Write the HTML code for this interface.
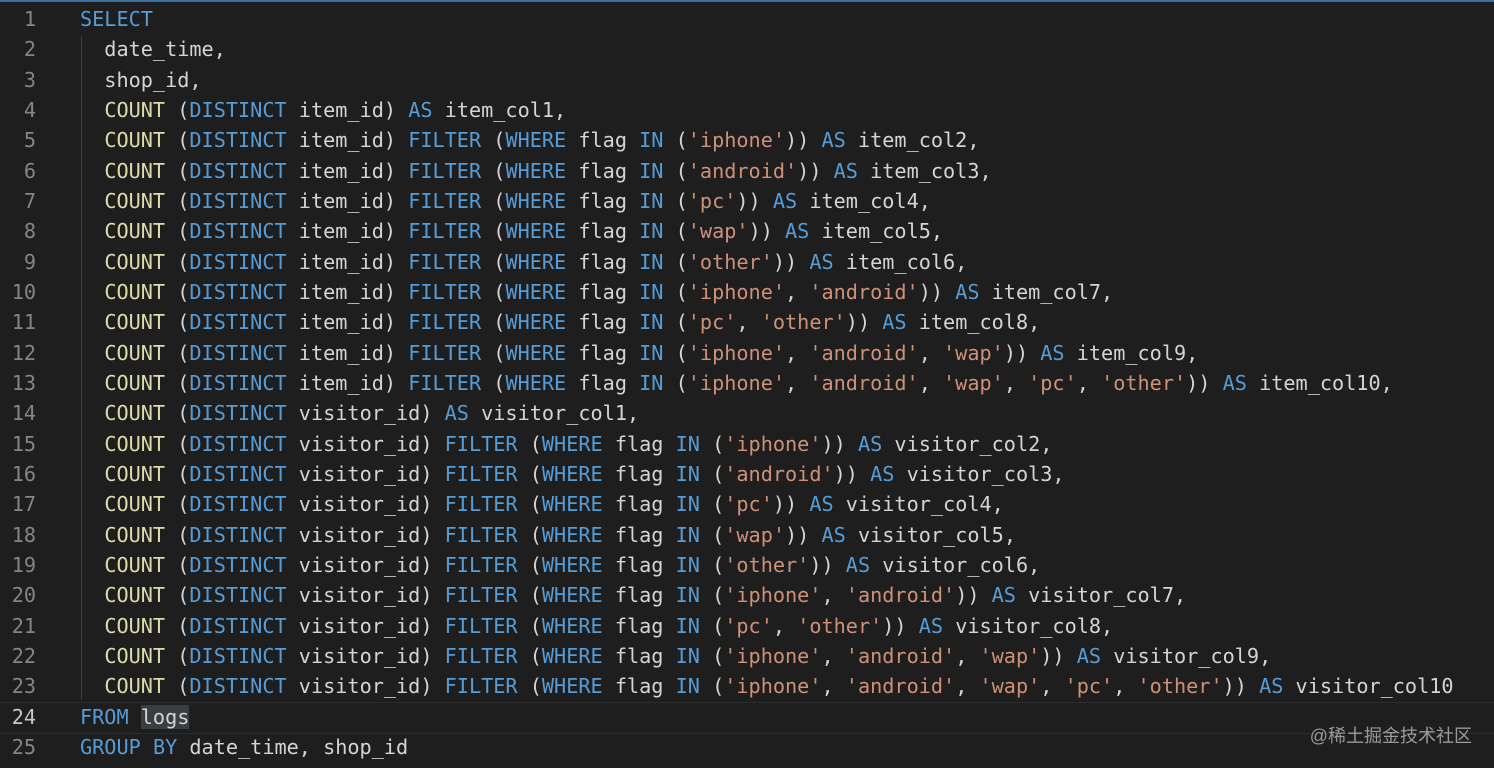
<!DOCTYPE html>
<html><head><meta charset="utf-8"><style>
html,body{margin:0;padding:0;background:#1e1e1e;width:1494px;height:768px;overflow:hidden}
.bar{position:absolute;left:0;top:0;width:1494px;height:2px;background:#3a6ea5}
.code{position:absolute;left:0;top:4px;font-family:"DejaVu Sans Mono","Liberation Mono",monospace;font-size:20.2px;line-height:30.33px;color:#d4d4d4}
.l{height:30.33px;position:relative}
.n{position:absolute;left:0;width:36px;text-align:right;color:#858585}
.t{position:absolute;left:80px;white-space:pre}
.k{color:#569cd6}.f{color:#dcdcaa}.s{color:#ce9178}
.cur{position:absolute;left:0;top:702px;width:1494px;height:30px;border-top:1px solid #2c2c2c;border-bottom:1px solid #2c2c2c}
.guide{position:absolute;left:81px;top:36px;width:1px;height:664px;background:#404040}
.wm{position:absolute;right:22px;top:722px;font-family:"Liberation Sans","Noto Sans CJK SC",sans-serif;font-size:18px;color:#9a9a9a}
.sel{background:#3a3d41}
</style></head><body>
<div class="bar"></div>
<div class="cur"></div>
<div class="guide"></div>
<div class="code">
<div class="l"><span class="n">1</span><span class="t"><span class="k">SELECT</span></span></div>
<div class="l"><span class="n">2</span><span class="t">  date_time,</span></div>
<div class="l"><span class="n">3</span><span class="t">  shop_id,</span></div>
<div class="l"><span class="n">4</span><span class="t">  <span class="f">COUNT</span> (<span class="k">DISTINCT</span> item_id) <span class="k">AS</span> item_col1,</span></div>
<div class="l"><span class="n">5</span><span class="t">  <span class="f">COUNT</span> (<span class="k">DISTINCT</span> item_id) <span class="k">FILTER</span> (<span class="k">WHERE</span> flag <span class="k">IN</span> (<span class="s">'iphone'</span>)) <span class="k">AS</span> item_col2,</span></div>
<div class="l"><span class="n">6</span><span class="t">  <span class="f">COUNT</span> (<span class="k">DISTINCT</span> item_id) <span class="k">FILTER</span> (<span class="k">WHERE</span> flag <span class="k">IN</span> (<span class="s">'android'</span>)) <span class="k">AS</span> item_col3,</span></div>
<div class="l"><span class="n">7</span><span class="t">  <span class="f">COUNT</span> (<span class="k">DISTINCT</span> item_id) <span class="k">FILTER</span> (<span class="k">WHERE</span> flag <span class="k">IN</span> (<span class="s">'pc'</span>)) <span class="k">AS</span> item_col4,</span></div>
<div class="l"><span class="n">8</span><span class="t">  <span class="f">COUNT</span> (<span class="k">DISTINCT</span> item_id) <span class="k">FILTER</span> (<span class="k">WHERE</span> flag <span class="k">IN</span> (<span class="s">'wap'</span>)) <span class="k">AS</span> item_col5,</span></div>
<div class="l"><span class="n">9</span><span class="t">  <span class="f">COUNT</span> (<span class="k">DISTINCT</span> item_id) <span class="k">FILTER</span> (<span class="k">WHERE</span> flag <span class="k">IN</span> (<span class="s">'other'</span>)) <span class="k">AS</span> item_col6,</span></div>
<div class="l"><span class="n">10</span><span class="t">  <span class="f">COUNT</span> (<span class="k">DISTINCT</span> item_id) <span class="k">FILTER</span> (<span class="k">WHERE</span> flag <span class="k">IN</span> (<span class="s">'iphone'</span>, <span class="s">'android'</span>)) <span class="k">AS</span> item_col7,</span></div>
<div class="l"><span class="n">11</span><span class="t">  <span class="f">COUNT</span> (<span class="k">DISTINCT</span> item_id) <span class="k">FILTER</span> (<span class="k">WHERE</span> flag <span class="k">IN</span> (<span class="s">'pc'</span>, <span class="s">'other'</span>)) <span class="k">AS</span> item_col8,</span></div>
<div class="l"><span class="n">12</span><span class="t">  <span class="f">COUNT</span> (<span class="k">DISTINCT</span> item_id) <span class="k">FILTER</span> (<span class="k">WHERE</span> flag <span class="k">IN</span> (<span class="s">'iphone'</span>, <span class="s">'android'</span>, <span class="s">'wap'</span>)) <span class="k">AS</span> item_col9,</span></div>
<div class="l"><span class="n">13</span><span class="t">  <span class="f">COUNT</span> (<span class="k">DISTINCT</span> item_id) <span class="k">FILTER</span> (<span class="k">WHERE</span> flag <span class="k">IN</span> (<span class="s">'iphone'</span>, <span class="s">'android'</span>, <span class="s">'wap'</span>, <span class="s">'pc'</span>, <span class="s">'other'</span>)) <span class="k">AS</span> item_col10,</span></div>
<div class="l"><span class="n">14</span><span class="t">  <span class="f">COUNT</span> (<span class="k">DISTINCT</span> visitor_id) <span class="k">AS</span> visitor_col1,</span></div>
<div class="l"><span class="n">15</span><span class="t">  <span class="f">COUNT</span> (<span class="k">DISTINCT</span> visitor_id) <span class="k">FILTER</span> (<span class="k">WHERE</span> flag <span class="k">IN</span> (<span class="s">'iphone'</span>)) <span class="k">AS</span> visitor_col2,</span></div>
<div class="l"><span class="n">16</span><span class="t">  <span class="f">COUNT</span> (<span class="k">DISTINCT</span> visitor_id) <span class="k">FILTER</span> (<span class="k">WHERE</span> flag <span class="k">IN</span> (<span class="s">'android'</span>)) <span class="k">AS</span> visitor_col3,</span></div>
<div class="l"><span class="n">17</span><span class="t">  <span class="f">COUNT</span> (<span class="k">DISTINCT</span> visitor_id) <span class="k">FILTER</span> (<span class="k">WHERE</span> flag <span class="k">IN</span> (<span class="s">'pc'</span>)) <span class="k">AS</span> visitor_col4,</span></div>
<div class="l"><span class="n">18</span><span class="t">  <span class="f">COUNT</span> (<span class="k">DISTINCT</span> visitor_id) <span class="k">FILTER</span> (<span class="k">WHERE</span> flag <span class="k">IN</span> (<span class="s">'wap'</span>)) <span class="k">AS</span> visitor_col5,</span></div>
<div class="l"><span class="n">19</span><span class="t">  <span class="f">COUNT</span> (<span class="k">DISTINCT</span> visitor_id) <span class="k">FILTER</span> (<span class="k">WHERE</span> flag <span class="k">IN</span> (<span class="s">'other'</span>)) <span class="k">AS</span> visitor_col6,</span></div>
<div class="l"><span class="n">20</span><span class="t">  <span class="f">COUNT</span> (<span class="k">DISTINCT</span> visitor_id) <span class="k">FILTER</span> (<span class="k">WHERE</span> flag <span class="k">IN</span> (<span class="s">'iphone'</span>, <span class="s">'android'</span>)) <span class="k">AS</span> visitor_col7,</span></div>
<div class="l"><span class="n">21</span><span class="t">  <span class="f">COUNT</span> (<span class="k">DISTINCT</span> visitor_id) <span class="k">FILTER</span> (<span class="k">WHERE</span> flag <span class="k">IN</span> (<span class="s">'pc'</span>, <span class="s">'other'</span>)) <span class="k">AS</span> visitor_col8,</span></div>
<div class="l"><span class="n">22</span><span class="t">  <span class="f">COUNT</span> (<span class="k">DISTINCT</span> visitor_id) <span class="k">FILTER</span> (<span class="k">WHERE</span> flag <span class="k">IN</span> (<span class="s">'iphone'</span>, <span class="s">'android'</span>, <span class="s">'wap'</span>)) <span class="k">AS</span> visitor_col9,</span></div>
<div class="l"><span class="n">23</span><span class="t">  <span class="f">COUNT</span> (<span class="k">DISTINCT</span> visitor_id) <span class="k">FILTER</span> (<span class="k">WHERE</span> flag <span class="k">IN</span> (<span class="s">'iphone'</span>, <span class="s">'android'</span>, <span class="s">'wap'</span>, <span class="s">'pc'</span>, <span class="s">'other'</span>)) <span class="k">AS</span> visitor_col10</span></div>
<div class="l"><span class="n" style="color:#c6c6c6">24</span><span class="t"><span class="k">FROM</span> <span class="sel">logs</span></span></div>
<div class="l"><span class="n">25</span><span class="t"><span class="k">GROUP</span> <span class="k">BY</span> date_time, shop_id</span></div>
</div>
<div class="wm">@稀土掘金技术社区</div>
</body></html>
